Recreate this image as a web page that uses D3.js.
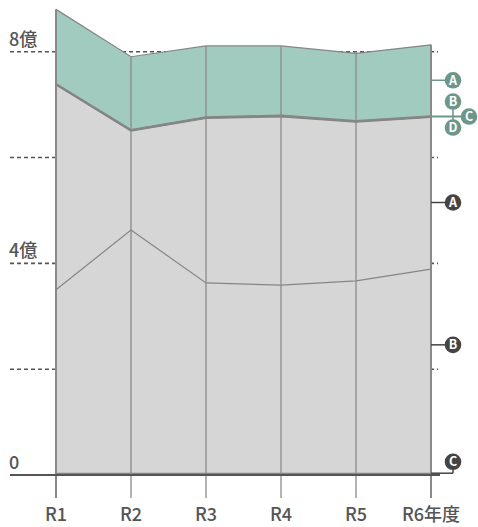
<!DOCTYPE html>
<html>
<head>
<meta charset="utf-8">
<script src="https://cdn.jsdelivr.net/npm/d3@7"></script>
<style>
  body { margin: 0; background: #fff; }
  text { font-family: "Noto Sans CJK JP", "Noto Sans", sans-serif; }
</style>
</head>
<body>
<div id="chart"></div>
<script>
// 単位: 億
const years = ["R1", "R2", "R3", "R4", "R5", "R6"];
const yearLabels = ["R1", "R2", "R3", "R4", "R5", "R6年度"];

// lower (gray) group
const grayC = [0.03, 0.03, 0.03, 0.03, 0.03, 0.03];
const grayB = [3.47, 4.60, 3.60, 3.56, 3.64, 3.86];
const grayA = [3.87, 1.87, 3.11, 3.18, 3.00, 2.87];
// upper (green) group
const greenD = [0.01, 0.01, 0.01, 0.01, 0.01, 0.01];
const greenC = [0.01, 0.01, 0.01, 0.01, 0.01, 0.01];
const greenB = [0.01, 0.01, 0.01, 0.01, 0.01, 0.01];
const greenA = [1.40, 1.375, 1.34, 1.31, 1.27, 1.34];

const gridTicks = [2, 4, 6, 8];
const tickLabels = {0: "0", 4: "4億", 8: "8億"};

const width = 478, height = 527;

const x = d3.scalePoint().domain(years).range([56, 431]);
const y = d3.scaleLinear().domain([0, 8]).range([475, 51.7]);

const keys = ["grayC", "grayB", "grayA", "greenD", "greenC", "greenB", "greenA"];
const series = {grayC, grayB, grayA, greenD, greenC, greenB, greenA};
const fills = {
  grayC: "#d6d6d6", grayB: "#d6d6d6", grayA: "#d6d6d6",
  greenD: "#a2cbbf", greenC: "#a2cbbf", greenB: "#a2cbbf", greenA: "#a2cbbf"
};

const rows = years.map((yr, i) => {
  const r = {year: yr};
  keys.forEach(k => r[k] = series[k][i]);
  return r;
});
const stacked = d3.stack().keys(keys)(rows);

const svg = d3.select("#chart").append("svg")
  .attr("width", width)
  .attr("height", height);

// dashed grid lines (behind the areas)
svg.append("g").selectAll("line")
  .data(gridTicks)
  .join("line")
  .attr("x1", 10).attr("x2", 438)
  .attr("y1", d => y(d)).attr("y2", d => y(d))
  .attr("stroke", "#555")
  .attr("stroke-width", 1.6)
  .attr("stroke-dasharray", "4,3");

const area = d3.area()
  .x(d => x(d.data.year))
  .y0(d => y(d[0]))
  .y1(d => y(d[1]));

const line = d3.line()
  .x(d => x(d.data.year))
  .y(d => y(d[1]));

svg.append("g").selectAll("path")
  .data(stacked)
  .join("path")
  .attr("d", area)
  .attr("fill", d => fills[d.key]);

svg.append("g").selectAll("path")
  .data(stacked)
  .join("path")
  .attr("d", line)
  .attr("fill", "none")
  .attr("stroke", "#858585")
  .attr("stroke-width", 1.2);

// vertical year lines
const topLayer = stacked[stacked.length - 1];
svg.append("g").selectAll("line")
  .data(topLayer)
  .join("line")
  .attr("x1", d => x(d.data.year)).attr("x2", d => x(d.data.year))
  .attr("y1", d => y(d[1])).attr("y2", 498)
  .attr("stroke", "#8a8a8a")
  .attr("stroke-width", (d, i) => (i === 0 || i === years.length - 1) ? 2 : 1.3);

// baseline
svg.append("line")
  .attr("x1", 10).attr("x2", 440)
  .attr("y1", y(0)).attr("y2", y(0))
  .attr("stroke", "#555")
  .attr("stroke-width", 2);

// y labels
svg.append("g").selectAll("text")
  .data(Object.keys(tickLabels).map(Number))
  .join("text")
  .attr("x", 9)
  .attr("y", d => y(d) - 6)
  .attr("fill", "#555")
  .attr("font-size", 18)
  .attr("font-weight", 500)
  .text(d => tickLabels[d]);

// x labels
svg.append("g").selectAll("text")
  .data(years)
  .join("text")
  .attr("x", d => x(d))
  .attr("y", 521)
  .attr("text-anchor", "middle")
  .attr("fill", "#555")
  .attr("font-size", 18)
  .attr("font-weight", 500)
  .text((d, i) => yearLabels[i]);

// legend markers
const last = years.length - 1;
const xr = x(years[last]);
const lx = xr + 22;
const mid = k => {
  const s = stacked.find(s => s.key === k)[last];
  return (s[0] + s[1]) / 2;
};
const greenCol = "#6b968a", darkCol = "#444";

function marker(cx, cy, label, col) {
  svg.append("circle").attr("cx", cx).attr("cy", cy).attr("r", 8.3).attr("fill", col);
  svg.append("text").attr("x", cx).attr("y", cy + 4.5)
    .attr("text-anchor", "middle").attr("fill", "#fff")
    .attr("font-size", 12.5).attr("font-weight", "bold").text(label);
}
function seg(x1, y1, x2, y2, col, w) {
  svg.append("line").attr("x1", x1).attr("y1", y1).attr("x2", x2).attr("y2", y2)
    .attr("stroke", col).attr("stroke-width", w);
}

// green group
const gA = y(mid("greenA"));
seg(xr, gA, lx, gA, greenCol, 1.5);
marker(lx, gA, "A", greenCol);
const gC = y(mid("greenC"));
seg(xr, gC, lx + 16, gC, greenCol, 2);
seg(lx, gC - 15, lx, gC + 11, greenCol, 1.5);
marker(lx, gC - 15, "B", greenCol);
marker(lx + 16, gC, "C", greenCol);
marker(lx, gC + 11, "D", greenCol);

// gray group (label anchors in 億)
const legendAt = {A: 5.15, B: 2.46, C: 0.25};
seg(xr, y(legendAt.A), lx, y(legendAt.A), darkCol, 1.5);
marker(lx, y(legendAt.A), "A", darkCol);
seg(xr, y(legendAt.B), lx, y(legendAt.B), darkCol, 1.5);
marker(lx, y(legendAt.B), "B", darkCol);
const cY = y(mid("grayC")) - 1;
seg(xr, cY, lx, cY, darkCol, 1.5);
seg(lx, cY, lx, y(legendAt.C), darkCol, 1.5);
marker(lx, y(legendAt.C), "C", darkCol);
</script>
</body>
</html>
